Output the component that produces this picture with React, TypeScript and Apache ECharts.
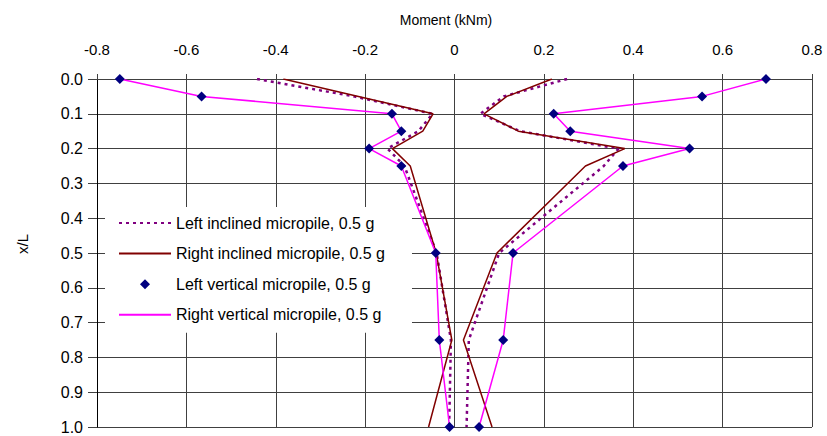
import React, { useEffect, useRef } from "react";
import * as echarts from "echarts";

// Relative depth along the micropile (x/L)
const depth = [0, 0.05, 0.1, 0.15, 0.2, 0.25, 0.5, 0.75, 1.0];

// Bending moment envelopes (kNm): negative and positive branches
const leftInclinedNeg = [-0.442, -0.225, -0.049, -0.081, -0.15, -0.112, -0.04, -0.008, -0.012];
const leftInclinedPos = [0.252, 0.11, 0.058, 0.147, 0.367, 0.334, 0.1, 0.032, 0.027];

const rightInclinedNeg = [-0.383, -0.215, -0.048, -0.071, -0.139, -0.099, -0.041, -0.006, -0.058];
const rightInclinedPos = [0.218, 0.117, 0.066, 0.143, 0.381, 0.293, 0.095, 0.02, 0.084];

const leftVerticalNeg = [-0.749, -0.566, -0.14, -0.119, -0.191, -0.119, -0.042, -0.034, -0.011];
const leftVerticalPos = [0.697, 0.554, 0.222, 0.259, 0.526, 0.377, 0.131, 0.109, 0.055];

const rightVerticalNeg = [-0.749, -0.566, -0.14, -0.119, -0.191, -0.119, -0.042, -0.034, -0.011];
const rightVerticalPos = [0.697, 0.554, 0.222, 0.259, 0.526, 0.377, 0.131, 0.109, 0.055];

const names = [
  "Left inclined micropile, 0.5 g",
  "Right inclined micropile, 0.5 g",
  "Left vertical micropile, 0.5 g",
  "Right vertical micropile, 0.5 g",
];

const xTicks = { min: -0.8, max: 0.8, step: 0.2 };
const yTicks = { min: 0, max: 1, step: 0.1 };

const FONT = "'Liberation Sans', Arial, sans-serif";
const GRID = "#404040";
const NAVY = "#000080";
const DIAMOND = "path://M5,0 L10,5 L5,10 L0,5 Z";

const pairs = (xs: number[]) => xs.map((x, i) => [x, depth[i]]);

export default function App() {
  const ref = useRef<HTMLDivElement>(null);

  useEffect(() => {
    if (!ref.current) return;
    const chart = echarts.init(ref.current, null, { renderer: "svg" });

    const dotted = { color: "#800080", width: 2.5, type: [3, 4] as number[] };
    const maroon = { color: "#800000", width: 1.5, type: "solid" as const };
    const magenta = { color: "#ff00ff", width: 1.5, type: "solid" as const };

    const lineSeries = (name: string, xs: number[], style: any, z: number) => ({
      type: "line",
      name,
      data: pairs(xs),
      symbol: "none",
      lineStyle: style,
      itemStyle: { color: style.color },
      z,
      silent: true,
    });

    // line-only legend entries: hide the marker that line series add to their icon
    const lineEntry = (name: string) => ({ name, itemStyle: { opacity: 0 } });

    chart.setOption({
      animation: false,
      backgroundColor: "#ffffff",
      textStyle: { fontFamily: FONT },
      title: {
        text: "Moment (kNm)",
        left: 441,
        top: 8,
        textAlign: "center",
        textStyle: { fontSize: 14, fontWeight: "normal", color: "#000", fontFamily: FONT },
      },
      graphic: [
        {
          type: "text",
          x: 22,
          y: 244,
          rotation: Math.PI / 2,
          style: {
            text: "x/L",
            fill: "#000",
            font: `15px ${FONT}`,
            align: "center",
            verticalAlign: "middle",
          },
        },
      ],
      grid: { left: 97, right: 15, top: 79, bottom: 9, containLabel: false },
      legend: {
        orient: "vertical",
        left: 105,
        top: 207,
        padding: [8, 27, 10, 13],
        backgroundColor: "#ffffff",
        itemWidth: 52,
        itemHeight: 10,
        itemGap: 14.6,
        selectedMode: false,
        data: [
          lineEntry(names[0]),
          lineEntry(names[1]),
          { name: names[2], icon: DIAMOND, itemStyle: { color: NAVY, opacity: 1 } },
          lineEntry(names[3]),
        ],
        textStyle: { fontSize: 16, color: "#000", fontFamily: FONT, lineHeight: 16 },
      },
      xAxis: {
        type: "value",
        position: "top",
        min: xTicks.min,
        max: xTicks.max,
        interval: xTicks.step,
        axisLine: { show: true, lineStyle: { color: GRID, width: 1 } },
        axisTick: { show: true, inside: false, length: 5, lineStyle: { color: GRID } },
        axisLabel: {
          margin: 22,
          fontSize: 15,
          color: "#000",
          fontFamily: FONT,
          formatter: (v: number) => (Math.abs(v) < 1e-9 ? "0" : String(Math.round(v * 10) / 10)),
        },
        splitLine: { show: true, lineStyle: { color: GRID, width: 1 } },
      },
      yAxis: {
        type: "value",
        inverse: true,
        min: yTicks.min,
        max: yTicks.max,
        interval: yTicks.step,
        axisLine: { show: true, onZero: false, lineStyle: { color: "#000", width: 1 } },
        axisTick: { show: true, inside: false, length: 9, lineStyle: { color: GRID } },
        axisLabel: {
          margin: 14,
          fontSize: 16,
          color: "#000",
          fontFamily: FONT,
          formatter: (v: number) => v.toFixed(1),
        },
        splitLine: { show: true, lineStyle: { color: GRID, width: 1 } },
      },
      series: [
        lineSeries(names[0], leftInclinedNeg, dotted, 2),
        lineSeries(names[0], leftInclinedPos, dotted, 2),
        lineSeries(names[1], rightInclinedNeg, maroon, 3),
        lineSeries(names[1], rightInclinedPos, maroon, 3),
        lineSeries(names[3], rightVerticalNeg, magenta, 4),
        lineSeries(names[3], rightVerticalPos, magenta, 4),
        {
          type: "scatter",
          name: names[2],
          data: [...pairs(leftVerticalNeg), ...pairs(leftVerticalPos)],
          symbol: "diamond",
          symbolSize: 10,
          itemStyle: { color: NAVY, opacity: 1 },
          z: 5,
          silent: true,
        },
      ],
    });

    return () => chart.dispose();
  }, []);

  return (
    <div
      ref={ref}
      style={{ position: "absolute", left: 0, top: 0, width: 827, height: 436 }}
    />
  );
}
